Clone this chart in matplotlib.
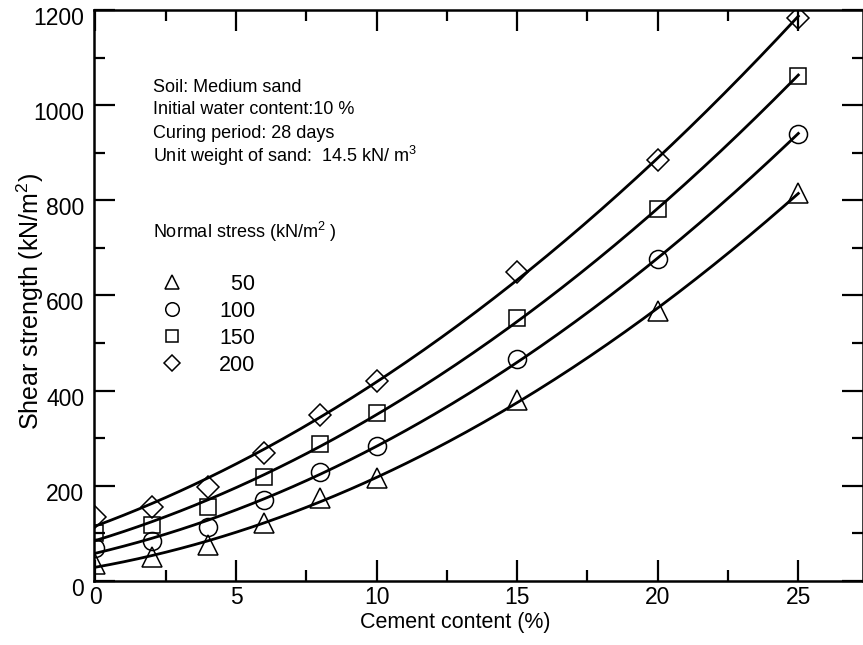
import numpy as np
import matplotlib
matplotlib.use("Agg")
import matplotlib.pyplot as plt
import matplotlib.transforms as mtransforms
from matplotlib.ticker import MultipleLocator

plt.rcParams['font.family'] = ['Liberation Sans', 'DejaVu Sans']
plt.rcParams['mathtext.fontset'] = 'custom'
plt.rcParams['mathtext.rm'] = 'Liberation Sans'
plt.rcParams['mathtext.it'] = 'Liberation Sans:italic'

# data
cement = [0, 2, 4, 6, 8, 10, 15, 20, 25]
stress_labels = ['  50', '100', '150', '200']
shear_50 = [35, 50, 75, 122, 174, 216, 380, 568, 816]
shear_100 = [70, 85, 114, 170, 229, 284, 467, 677, 939]
shear_150 = [100, 118, 155, 218, 288, 353, 553, 782, 1061]
shear_200 = [135, 155, 198, 268, 349, 420, 649, 885, 1184]

series = [shear_50, shear_100, shear_150, shear_200]
markers = ['^', 'o', 's', 'D']
msizes = [14, 13, 11.5, 11]

fig = plt.figure(figsize=(8.63, 6.45), dpi=100)
ax = fig.add_axes([94/863, 1 - 581/645, 769/863, 571/645])

handles = []
for ys, m, ms, lab in zip(series, markers, msizes, stress_labels):
    # quadratic trend line through each series
    coef = np.polyfit(cement, ys, 2)
    xs = np.linspace(min(cement), max(cement), 200)
    ax.plot(xs, np.polyval(coef, xs), color='black', lw=2)
    h, = ax.plot(cement, ys, linestyle='none', marker=m, ms=ms,
                 mfc='none', mec='black', mew=1.1, label=lab)
    handles.append(h)

ax.set_xlim(-0.05, 27.3)
ax.set_ylim(0, 1200)
ax.xaxis.set_major_locator(MultipleLocator(5))
ax.xaxis.set_minor_locator(MultipleLocator(2.5))
ax.yaxis.set_major_locator(MultipleLocator(200))
ax.yaxis.set_minor_locator(MultipleLocator(100))
ax.tick_params(which='both', direction='in', top=True, right=True,
               width=1.6, labelsize=16.5)
ax.tick_params(which='major', length=15)
ax.tick_params(axis='y', which='major', pad=7)
ax.tick_params(which='minor', length=8)
for sp in ax.spines.values():
    sp.set_linewidth(1.8)

# y tick labels sit a bit below their ticks in the original
offset = mtransforms.ScaledTranslation(0, -6/100, fig.dpi_scale_trans)
for lab in ax.get_yticklabels():
    lab.set_transform(lab.get_transform() + offset)

ax.set_xlabel('Cement content (%)', fontsize=15.5)
ax.set_ylabel('Shear strength (kN/m$^2$)', fontsize=18)
ax.xaxis.set_label_coords(0.47, -0.055)
ax.yaxis.set_label_coords(-0.062, 0.49)

txt = ['Soil: Medium sand', 'Initial water content:10 %',
       'Curing period: 28 days', 'Unit weight of sand:  14.5 kN/ m$^3$']
for i, t in enumerate(txt):
    fig.text(153/863, 1 - (87 + 23*i)/645, t, fontsize=13, va='center')
fig.text(153/863, 1 - 232/645, 'Normal stress (kN/m$^2$ )', fontsize=13, va='center')

leg = ax.legend(handles=handles, loc='upper left', frameon=False,
                bbox_to_anchor=((150 - 94)/769, (581 - 265)/571),
                fontsize=15.5, markerscale=0.75, handlelength=1.2,
                handletextpad=1.6, labelspacing=0.28, borderaxespad=0)

fig.savefig('out.png', dpi=100)
